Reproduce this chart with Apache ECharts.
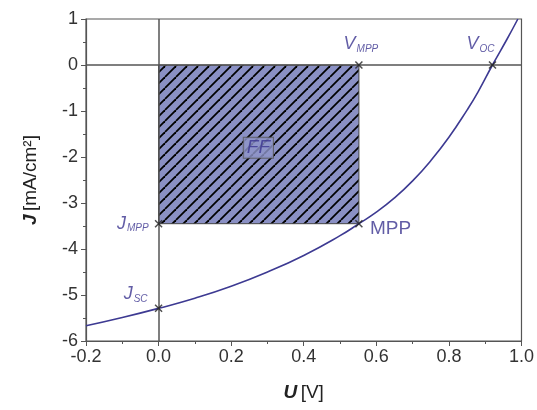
<!DOCTYPE html>
<html>
<head>
<meta charset="utf-8">
<script src="https://cdn.jsdelivr.net/npm/echarts@6/dist/echarts.min.js"></script>
<style>html,body{margin:0;padding:0;background:#fff}#c{width:537px;height:410px}</style>
</head>
<body>
<div id="c"></div>
<script>
// ---- data ----
const uValues = [-0.2, -0.1, 0.0, 0.1, 0.2, 0.3, 0.4, 0.5, 0.552, 0.6, 0.65, 0.7, 0.75, 0.8, 0.85, 0.88, 0.92, 0.96, 0.99];
const jValues = [-5.67, -5.49, -5.29, -5.07, -4.81, -4.50, -4.14, -3.71, -3.45, -3.20, -2.89, -2.52, -2.08, -1.57, -0.98, -0.59, 0.0, 0.56, 1.0];
const keyNames = ['J_MPP', 'J_SC', 'V_MPP', 'V_OC', 'MPP'];
const keyU = [0, 0, 0.552, 0.92, 0.552];
const keyJ = [-3.45, -5.29, 0, 0, -3.45];
const rectU = [0, 0.552];
const rectJ = [0, -3.45];
const ffLabel = 'FF';
const xMin = -0.2, xMax = 1.0, xStep = 0.2;
const yMin = -6, yMax = 1, yStep = 1;

const TXT = '#3b3590';
const FONT = 'Liberation Sans, Arial, sans-serif';

// hatch pattern
const tile = document.createElement('canvas');
const S = 11;
tile.width = S; tile.height = S;
const g = tile.getContext('2d');
g.fillStyle = '#8a90c4';
g.fillRect(0, 0, S, S);
g.strokeStyle = '#000';
g.lineWidth = 1.8;
for (let k = -1; k <= 1; k++) {
  g.beginPath();
  g.moveTo(k * S, S);
  g.lineTo(k * S + S, 0);
  g.stroke();
}

const curve = uValues.map((u, i) => [u, jValues[i]]);

const labelDefs = {
  J_MPP: { text: '{m|J}{s|MPP}', position: 'left', distance: 4, offset: [0, 0] },
  J_SC: { text: '{m|J}{s|SC}', position: 'left', distance: 5, offset: [0, -14] },
  V_MPP: { text: '{m|V}{s|MPP}', position: 'top', distance: 5, offset: [2, 0] },
  V_OC: { text: '{m|V}{s|OC}', position: 'top', distance: 5, offset: [-12, 0] },
  MPP: { text: '{b|MPP}', position: 'right', distance: 5, offset: [0, 5] }
};

const keyData = keyNames.map((n, i) => {
  const d = labelDefs[n];
  return {
    value: [keyU[i], keyJ[i]],
    label: {
      show: true,
      position: d.position,
      distance: d.distance,
      offset: d.offset,
      formatter: d.text,
      rich: {
        m: { fontSize: 18, fontStyle: 'italic', fontFamily: FONT, color: TXT, lineHeight: 20 },
        s: { fontSize: 10, fontStyle: 'italic', fontFamily: FONT, color: TXT, verticalAlign: 'bottom', lineHeight: 12, padding: [0, 0, 0, 1] },
        b: { fontSize: 19, fontFamily: FONT, color: TXT }
      }
    }
  };
});

const chart = echarts.init(document.getElementById('c'), null, { renderer: 'canvas' });
chart.setOption({
  animation: false,
  backgroundColor: '#fff',
  grid: { left: 86, right: 15, top: 19, bottom: 69, show: true, borderColor: '#555', borderWidth: 1.2, backgroundColor: 'transparent' },
  xAxis: {
    type: 'value', min: xMin, max: xMax, interval: xStep,
    name: '{b|U} {r|[V]}', nameLocation: 'middle', nameGap: 42,
    nameTextStyle: { rich: {
      b: { fontSize: 19, fontWeight: 'bold', fontStyle: 'italic', fontFamily: FONT, color: '#222' },
      r: { fontSize: 19, fontFamily: FONT, color: '#222' } } },
    axisLine: { onZero: false, lineStyle: { color: '#555', width: 1.2 } },
    axisTick: { show: true, inside: false, length: 5, lineStyle: { color: '#555' } },
    minorTick: { show: true, splitNumber: 2, length: 3, lineStyle: { color: '#555' } },
    axisLabel: { fontSize: 18, fontFamily: FONT, color: '#333', margin: 7, formatter: v => v.toFixed(1) },
    splitLine: { show: false }
  },
  yAxis: {
    type: 'value', min: yMin, max: yMax, interval: yStep,
    name: '{b|J} {r|[mA/cm²]}', nameLocation: 'middle', nameGap: 46,
    nameTextStyle: { rich: {
      b: { fontSize: 19, fontWeight: 'bold', fontStyle: 'italic', fontFamily: FONT, color: '#222' },
      r: { fontSize: 19, fontFamily: FONT, color: '#222' } } },
    axisLine: { onZero: false, lineStyle: { color: '#555', width: 1.2 } },
    axisTick: { show: true, inside: false, length: 5, lineStyle: { color: '#555' } },
    minorTick: { show: true, splitNumber: 2, length: 3, lineStyle: { color: '#555' } },
    axisLabel: { fontSize: 18, fontFamily: FONT, color: '#333', margin: 8 },
    splitLine: { show: false }
  },
  series: [
    {
      type: 'custom',
      z: 2,
      renderItem: function (params, api) {
        const p0 = api.coord([api.value(0), api.value(1)]);
        const p1 = api.coord([api.value(2), api.value(3)]);
        return {
          type: 'rect',
          shape: { x: p0[0], y: p0[1], width: p1[0] - p0[0], height: p1[1] - p0[1] },
          style: { fill: { image: tile, repeat: 'repeat' }, stroke: '#444', lineWidth: 1 }
        };
      },
      data: [[rectU[0], rectJ[0], rectU[1], rectJ[1]]]
    },
    {
      type: 'line', z: 3,
      data: [],
      markLine: {
        silent: true, symbol: 'none', label: { show: false },
        lineStyle: { color: '#555', width: 1.5, type: 'solid' },
        data: [{ yAxis: 0 }, { xAxis: 0 }]
      }
    },
    {
      type: 'line', z: 4,
      data: curve,
      smooth: 0.5,
      showSymbol: false,
      clip: true,
      lineStyle: { color: '#3d3a92', width: 1.6 }
    },
    {
      type: 'scatter', z: 5,
      data: [[0.275, -1.8]],
      symbolSize: 0,
      label: {
        show: true, position: 'inside', formatter: ffLabel,
        fontSize: 19, fontStyle: 'italic', fontFamily: FONT, color: TXT,
        backgroundColor: '#8e95c9', borderColor: '#555', borderWidth: 1, padding: [1, 3, 0, 3]
      }
    },
    {
      type: 'scatter', z: 6,
      symbol: 'path://M0,0L10,10M10,0L0,10',
      symbolSize: 7,
      itemStyle: { color: 'none', borderColor: '#222', borderWidth: 1.5 },
      data: keyData
    }
  ]
});
</script>
</body>
</html>
